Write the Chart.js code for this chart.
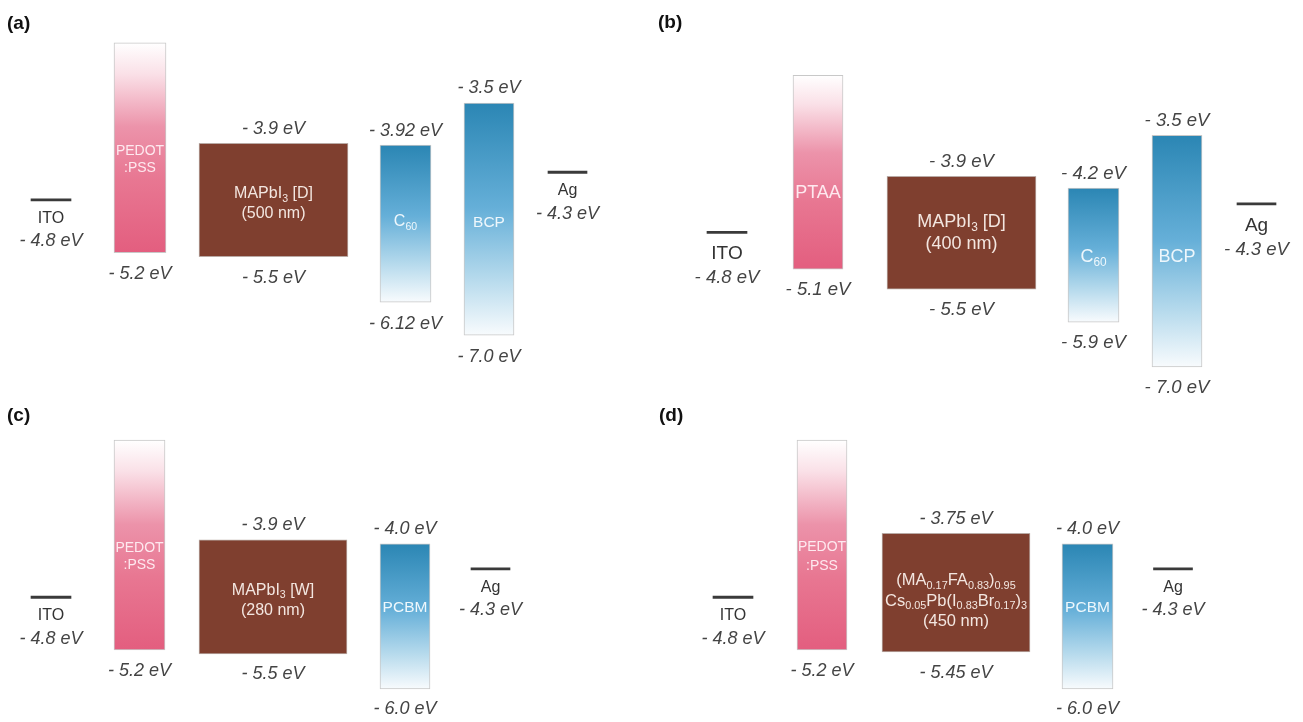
<!DOCTYPE html>
<html>
<head>
<meta charset="utf-8">
<script src="https://cdn.jsdelivr.net/npm/chart.js@4.4.1/dist/chart.umd.min.js"></script>
<style>
  html, body { margin: 0; padding: 0; background: #ffffff; width: 1303px; height: 722px; overflow: hidden; }
  canvas { position: absolute; display: block; }
</style>
</head>
<body>
<canvas id="ca" width="651" height="402" style="left:0px;top:0px;width:651px;height:402px"></canvas>
<canvas id="cb" width="652" height="402" style="left:651px;top:0px;width:652px;height:402px"></canvas>
<canvas id="cc" width="651" height="332" style="left:0px;top:390px;width:651px;height:332px"></canvas>
<canvas id="cd" width="652" height="332" style="left:651px;top:390px;width:652px;height:332px"></canvas>
<script>
// ---------------- DATA ----------------
// Band edges are the schematic levels at which the picture draws each layer
// (the diagram is not to scale); the energies are the values written on it.

// (a)
const aLayers        = ['PEDOT:PSS', 'MAPbI3 [D]', 'C60', 'BCP'];
const aLayerText     = ['PEDOT\n:PSS', 'MAPbI_{3} [D]\n(500 nm)', 'C_{60}', 'BCP'];
const aTopEdge       = [-2.59, -4.11, -4.14, -3.50];
const aBottomEdge    = [-5.77, -5.83, -6.52, -7.02];
const aTopEnergy     = [null, -3.9, -3.92, -3.5];
const aBottomEnergy  = [-5.2, -5.5, -6.12, -7.0];
const aElectrodes    = ['ITO', 'Ag'];
const aElectrodeEdge = [-4.97, -4.55];
const aElectrodeEnergy = [-4.8, -4.3];

// (b)
const bLayers        = ['PTAA', 'MAPbI3 [D]', 'C60', 'BCP'];
const bLayerText     = ['PTAA', 'MAPbI_{3} [D]\n(400 nm)', 'C_{60}', 'BCP'];
const bTopEdge       = [-2.59, -4.12, -4.30, -3.50];
const bBottomEdge    = [-5.53, -5.83, -6.33, -7.01];
const bTopEnergy     = [null, -3.9, -4.2, -3.5];
const bBottomEnergy  = [-5.1, -5.5, -5.9, -7.0];
const bElectrodes    = ['ITO', 'Ag'];
const bElectrodeEdge = [-4.97, -4.54];
const bElectrodeEnergy = [-4.8, -4.3];

// (c)
const cLayers        = ['PEDOT:PSS', 'MAPbI3 [W]', 'PCBM'];
const cLayerText     = ['PEDOT\n:PSS', 'MAPbI_{3} [W]\n(280 nm)', 'PCBM'];
const cTopEdge       = [-2.43, -3.94, -4.00];
const cBottomEdge    = [-5.61, -5.67, -6.20];
const cTopEnergy     = [null, -3.9, -4.0];
const cBottomEnergy  = [-5.2, -5.5, -6.0];
const cElectrodes    = ['ITO', 'Ag'];
const cElectrodeEdge = [-4.81, -4.38];
const cElectrodeEnergy = [-4.8, -4.3];

// (d)
const dLayers        = ['PEDOT:PSS', '(MA0.17FA0.83)0.95Cs0.05Pb(I0.83Br0.17)3', 'PCBM'];
const dLayerText     = ['PEDOT\n:PSS', '(MA_{0.17}FA_{0.83})_{0.95}\nCs_{0.05}Pb(I_{0.83}Br_{0.17})_{3}\n(450 nm)', 'PCBM'];
const dTopEdge       = [-2.43, -3.84, -4.00];
const dBottomEdge    = [-5.61, -5.64, -6.20];
const dTopEnergy     = [null, -3.75, -4.0];
const dBottomEnergy  = [-5.2, -5.45, -6.0];
const dElectrodes    = ['ITO', 'Ag'];
const dElectrodeEdge = [-4.81, -4.38];
const dElectrodeEnergy = [-4.8, -4.3];

// ---------------- LAYOUT / STYLE ----------------
const PX_PER_EV = 66;
const FONT = '"Liberation Sans", Arial, Helvetica, sans-serif';
const TEXT_COLOR = { pink: 'rgba(255,238,243,0.95)', brown: '#f3e6e0', blue: '#eef7fc' };

const panels = [
  { id: 'ca', w: 651, h: 402, yMax: -1.94, letter: '(a)', letterPos: [7, 24],
    layers: aLayers, text: aLayerText, topEdge: aTopEdge, bottomEdge: aBottomEdge, topE: aTopEnergy, botE: aBottomEnergy,
    electrodes: aElectrodes, elEdge: aElectrodeEdge, elE: aElectrodeEnergy,
    lx: [140, 273.5, 405.5, 489], lw: [52, 149, 51, 50], kind: ['pink', 'brown', 'blue', 'blue'],
    tf: [0.55, 0.52, 0.48, 0.51], ts: [14, 16, 16, 15.5], lh: [17, 19.5, 0, 0],
    ex: [51, 567.5], ew: [40, 39], elFont: 16, elNameDy: 17, elEDy: 40, lblFont: 18, topDy: 16, botDy: 20 },
  { id: 'cb', w: 652, h: 402, yMax: -1.45, letter: '(b)', letterPos: [7, 23],
    layers: bLayers, text: bLayerText, topEdge: bTopEdge, bottomEdge: bBottomEdge, topE: bTopEnergy, botE: bBottomEnergy,
    electrodes: bElectrodes, elEdge: bElectrodeEdge, elE: bElectrodeEnergy,
    lx: [167, 310.5, 442.5, 526], lw: [50, 149, 51, 50], kind: ['pink', 'brown', 'blue', 'blue'],
    tf: [0.60, 0.49, 0.50, 0.52], ts: [18, 18, 18, 18], lh: [0, 22, 0, 0],
    ex: [76, 605.5], ew: [40, 39], elFont: 19, elNameDy: 20, elEDy: 44, lblFont: 18.5, topDy: 16, botDy: 19 },
  { id: 'cc', w: 651, h: 332, yMax: -1.67, letter: '(c)', letterPos: [7, 25.5],
    layers: cLayers, text: cLayerText, topEdge: cTopEdge, bottomEdge: cBottomEdge, topE: cTopEnergy, botE: cBottomEnergy,
    electrodes: cElectrodes, elEdge: cElectrodeEdge, elE: cElectrodeEnergy,
    lx: [139.5, 273, 405], lw: [51, 148, 50], kind: ['pink', 'brown', 'blue'],
    tf: [0.55, 0.52, 0.43], ts: [14, 16, 15.5], lh: [17, 20.5, 0],
    ex: [51, 490.5], ew: [40, 39], elFont: 16, elNameDy: 17, elEDy: 40, lblFont: 18, topDy: 16, botDy: 19 },
  { id: 'cd', w: 652, h: 332, yMax: -1.67, letter: '(d)', letterPos: [8, 25.5],
    layers: dLayers, text: dLayerText, topEdge: dTopEdge, bottomEdge: dBottomEdge, topE: dTopEnergy, botE: dBottomEnergy,
    electrodes: dElectrodes, elEdge: dElectrodeEdge, elE: dElectrodeEnergy,
    lx: [171, 305, 436.5], lw: [50, 148, 51], kind: ['pink', 'brown', 'blue'],
    tf: [0.55, 0.56, 0.43], ts: [14, 16.5, 15.5], lh: [19, 20.5, 0],
    ex: [82, 522], ew: [40, 39], elFont: 16, elNameDy: 17, elEDy: 40, lblFont: 18, topDy: 16, botDy: 19 }
];

// ---------------- HELPERS ----------------
function fmt(v) {
  let s = Math.abs(v).toFixed(2);
  if (s.endsWith('0')) s = s.slice(0, -1);
  return '- ' + s + ' eV';
}

function runs(str) {
  const out = []; const re = /_\{([^}]*)\}/g; let last = 0, m;
  while ((m = re.exec(str))) {
    if (m.index > last) out.push({ t: str.slice(last, m.index), sub: false });
    out.push({ t: m[1], sub: true });
    last = re.lastIndex;
  }
  if (last < str.length) out.push({ t: str.slice(last), sub: false });
  return out;
}

function drawRich(ctx, str, cx, cy, size, color, style) {
  const rs = runs(str); const sub = size * 0.66;
  const font = (s) => `${style || ''} ${s}px ${FONT}`;
  let w = 0;
  rs.forEach(r => { ctx.font = font(r.sub ? sub : size); r.w = ctx.measureText(r.t).width; w += r.w; });
  let x = cx - w / 2;
  ctx.fillStyle = color; ctx.textAlign = 'left'; ctx.textBaseline = 'alphabetic';
  const base = cy + size * 0.36;
  rs.forEach(r => {
    ctx.font = font(r.sub ? sub : size);
    ctx.fillText(r.t, x, r.sub ? base + size * 0.22 : base);
    x += r.w;
  });
}

function fillFor(kind, top, bottom) {
  return (c) => {
    const ch = c.chart;
    if (kind === 'brown') return '#7f3f2f';
    if (!ch.chartArea) return kind === 'pink' ? '#e87993' : '#6ab2d9';
    const ys = ch.scales.y;
    const y0 = ys.getPixelForValue(top), y1 = ys.getPixelForValue(bottom);
    const g = ch.ctx.createLinearGradient(0, y0, 0, y1);
    if (kind === 'pink') {
      g.addColorStop(0, '#ffffff');
      g.addColorStop(0.15, '#fae0e7');
      g.addColorStop(0.4, '#ec93aa');
      g.addColorStop(0.65, '#e87792');
      g.addColorStop(1, '#e35e7f');
    } else {
      g.addColorStop(0, '#2b86b4');
      g.addColorStop(0.45, '#65afd8');
      g.addColorStop(0.75, '#b4d9ec');
      g.addColorStop(1, '#f8fbfd');
    }
    return g;
  };
}

function labelPlugin(p) {
  return {
    id: 'bandLabels',
    afterDatasetsDraw(chart) {
      const ctx = chart.ctx, ys = chart.scales.y;
      ctx.save();
      ctx.font = `bold 19px ${FONT}`; ctx.fillStyle = '#111'; ctx.textAlign = 'left'; ctx.textBaseline = 'middle';
      ctx.fillText(p.letter, p.letterPos[0], p.letterPos[1]);
      p.layers.forEach((n, i) => {
        const el = chart.getDatasetMeta(i).data[0];
        const cx = el.x;
        const yt = Math.min(el.y, el.base), yb = Math.max(el.y, el.base);
        if (p.topE[i] != null) drawRich(ctx, fmt(p.topE[i]), cx, yt - p.topDy, p.lblFont, '#444', 'italic');
        drawRich(ctx, fmt(p.botE[i]), cx, yb + p.botDy, p.lblFont, '#444', 'italic');
        const lines = p.text[i].split('\n');
        const c = yt + p.tf[i] * (yb - yt);
        lines.forEach((ln, j) => drawRich(ctx, ln, cx, c + (j - (lines.length - 1) / 2) * p.lh[i], p.ts[i], TEXT_COLOR[p.kind[i]], ''));
      });
      p.electrodes.forEach((n, i) => {
        const el = chart.getDatasetMeta(p.layers.length + i).data[0];
        const cx = el.x, y = ys.getPixelForValue(p.elEdge[i]);
        drawRich(ctx, n, cx, y + p.elNameDy, p.elFont, '#333', '');
        drawRich(ctx, fmt(p.elE[i]), cx, y + p.elEDy, p.lblFont, '#444', 'italic');
      });
      ctx.restore();
    }
  };
}

function makeChart(p) {
  const datasets = [];
  p.layers.forEach((name, i) => {
    datasets.push({
      label: name,
      data: [{ x: p.lx[i], y: [p.bottomEdge[i], p.topEdge[i]] }],
      barThickness: p.lw[i], grouped: false,
      backgroundColor: fillFor(p.kind[i], p.topEdge[i], p.bottomEdge[i]),
      borderColor: p.kind[i] === 'brown' ? '#b9aaa5' : '#c8c8c8', borderWidth: 1, borderSkipped: false
    });
  });
  p.electrodes.forEach((name, i) => {
    datasets.push({
      label: name,
      data: [{ x: p.ex[i], y: [p.elEdge[i] - 0.016, p.elEdge[i] + 0.016] }],
      barThickness: p.ew[i], grouped: false,
      backgroundColor: '#3a3a3a', borderWidth: 0
    });
  });
  new Chart(document.getElementById(p.id), {
    type: 'bar',
    data: { datasets },
    options: {
      responsive: false, animation: false, events: [],
      layout: { padding: 0 },
      plugins: { legend: { display: false }, tooltip: { enabled: false } },
      scales: {
        x: { type: 'linear', min: 0, max: p.w, offset: false, display: false },
        y: { type: 'linear', min: p.yMax - p.h / PX_PER_EV, max: p.yMax, display: false }
      }
    },
    plugins: [labelPlugin(p)]
  });
}

panels.forEach(makeChart);
</script>
</body>
</html>
